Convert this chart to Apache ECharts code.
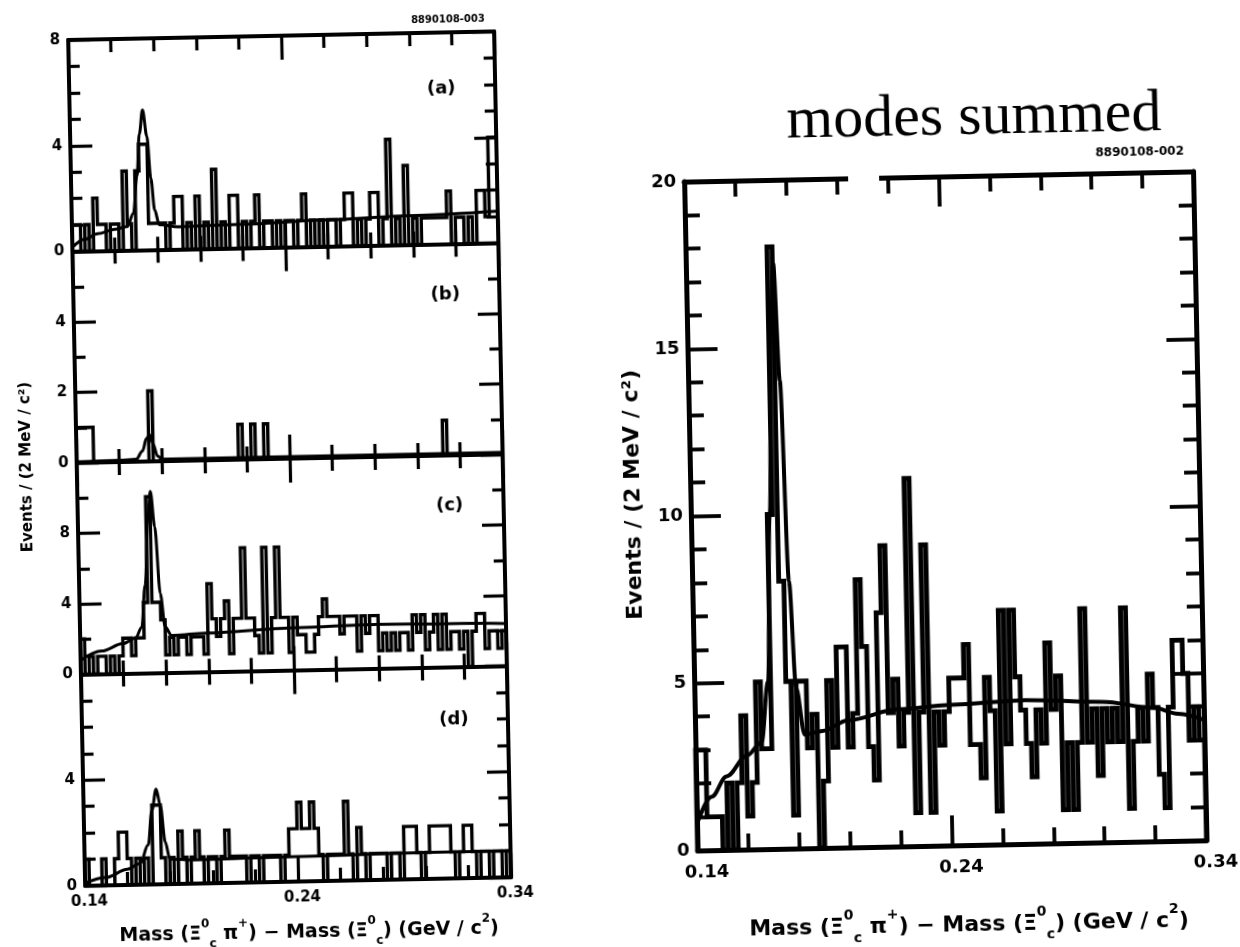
<!DOCTYPE html>
<html>
<head>
<meta charset="utf-8">
<script src="https://cdn.jsdelivr.net/npm/echarts@6.0.0/dist/echarts.min.js"></script>
<style>
html,body{margin:0;padding:0;background:#fff;overflow:hidden;}
#chart{width:1240px;height:947px;transform:rotate(-1.15deg);transform-origin:620px 473.5px;}
</style>
</head>
<body>
<div id="chart"></div>
<script>
// ---------- data ----------
const massStart = 0.14;       // GeV, left edge of first bin
const binWidth = 0.002;       // GeV (2 MeV bins)
const xTickLabels = ['0.14', '0.24', '0.34'];
const panelLabels = ['(a)', '(b)', '(c)', '(d)'];
const figureCodes = ['8890108-003', '8890108-002'];
const summedTitle = 'modes summed';

const countsA = [1,1,0,1,0,2,1,1,0,1, 1,0,3,1,0,3,4,4,1,1, 1,1,0,1,2,2,0,1,0,2, 0,1,0,3,0,1,0,2,2,0,
                 1,0,1,2,0,1,1,0,1,0, 1,1,0,1,2,0,1,0,1,0, 1,1,0,1,2,2,0,1,0,1, 2,2,0,1,4,0,1,0,3,0,
                 1,0,1,1,1,1,1,1,2,0, 1,1,0,1,0,2,2,1,4,4];
const countsB = [1,1,1,1,0,0,0,0,0,0, 0,0,0,0,0,0,0,2,0,0, 0,0,0,0,0,0,0,0,0,0, 0,0,0,0,0,0,0,0,1,0,
                 0,1,0,0,1,0,0,0,0,0, 0,0,0,0,0,0,0,0,0,0, 0,0,0,0,0,0,0,0,0,0, 0,0,0,0,0,0,0,0,0,0,
                 0,0,0,0,0,0,1,0,0,0, 0,0,0,0,0,0,0,0,0,0];
const countsC = [2,0,1,0,1,1,0,1,0,1, 2,2,1,2,2,4,10,4,4,3, 1,2,1,2,2,1,2,2,2,1, 5,3,2,3,4,1,3,3,7,3,
                 3,2,1,7,1,3,7,3,3,1, 3,2,2,1,1,2,3,4,3,3, 3,2,3,3,3,1,3,2,3,3, 1,2,1,2,1,2,2,1,3,2,
                 3,1,2,3,1,3,1,2,2,1, 2,0,2,3,3,1,2,2,1,2];
const countsD = [1,0,0,0,1,0,0,1,2,2, 1,0,1,0,1,0,3,3,1,0, 1,0,2,1,0,1,2,1,0,1, 1,0,1,2,1,1,1,1,0,1,
                 1,0,1,1,1,1,0,1,2,2, 3,2,2,3,2,1,0,1,1,1, 1,3,1,0,2,1,0,1,1,1, 1,0,1,1,0,2,2,2,1,0,
                 1,2,2,2,2,2,1,0,1,2, 2,1,0,1,1,0,1,1,0,1];
const countsSum = [3,3,1,1,1,0,2,0,2,4, 1,2,5,3,3,10,18,8,5,1, 5,5,3,4,0,2,5,3,6,6, 3,4,8,6,3,2,7,9,4,5,
                   3,4,11,1,4,9,1,4,3,4, 5,5,5,6,3,3,2,5,4,1, 7,3,7,5,4,3,2,4,3,6, 4,5,1,3,1,3,7,3,4,2,
                   4,3,4,3,7,1,3,4,3,5, 4,2,1,4,6,6,5,3,4,3];

// fitted curves as [mass (GeV), events]
const fitA = [[0.140,0.15],[0.146,0.45],[0.152,0.65],[0.160,0.8],[0.166,0.9],[0.169,1.4],[0.171,2.8],[0.1725,4.4],[0.1742,5.3],[0.176,4.3],[0.1775,2.7],[0.179,1.5],[0.181,0.95],[0.19,0.85],[0.22,0.9],[0.26,1.0],[0.30,1.1],[0.34,1.2]];
const fitB = [[0.140,0.03],[0.160,0.05],[0.168,0.07],[0.171,0.3],[0.173,0.65],[0.1745,0.75],[0.176,0.5],[0.178,0.15],[0.180,0.06],[0.22,0.06],[0.34,0.06]];
const fitC = [[0.140,0.8],[0.150,1.3],[0.160,1.7],[0.166,2.0],[0.169,2.6],[0.171,5.0],[0.173,9.0],[0.1743,10.3],[0.176,8.3],[0.178,4.5],[0.180,2.6],[0.183,2.1],[0.20,2.2],[0.24,2.4],[0.28,2.5],[0.32,2.45],[0.34,2.4]];
const fitD = [[0.140,0.1],[0.150,0.3],[0.160,0.6],[0.166,0.8],[0.170,1.5],[0.172,2.8],[0.1742,3.6],[0.176,3.0],[0.178,1.6],[0.180,0.95],[0.19,0.9],[0.24,0.95],[0.30,1.0],[0.34,1.0]];
const fitSum = [[0.140,0.8],[0.146,1.6],[0.152,2.2],[0.160,2.8],[0.166,3.2],[0.169,5.0],[0.171,10],[0.173,16],[0.1743,17.5],[0.176,14],[0.178,8],[0.180,4.8],[0.183,3.4],[0.19,3.5],[0.20,3.8],[0.22,4.1],[0.24,4.2],[0.27,4.3],[0.30,4.2],[0.32,4.0],[0.33,3.8],[0.34,3.6]];

// y-axis settings per panel
const yMaxes = [8, 6, 12, 8, 20];
const yLabelSteps = [4, 2, 4, 4, 5];
const yMinorSplits = [4, 2, 2, 4, 5];

// ---------- helpers ----------
const toMeV = m => (m - massStart) * 1000; // x axis in MeV above 0.14 GeV
function histData(counts) {
  const d = [[0, 0]];
  counts.forEach((v, i) => d.push([toMeV(massStart + binWidth * (i + 1)), v]));
  d.push([toMeV(massStart + binWidth * counts.length), 0]);
  return d;
}
const curveData = pts => pts.map(p => [toMeV(p[0]), p[1]]);

const FONT = '"DejaVu Sans", "Liberation Sans", sans-serif';
const grids = [], xAxes = [], yAxes = [], series = [];

const leftTop = 29, leftH = 211.5;
const panels = [
  {grid:{left:77, top:leftTop, width:426, height:leftH}, counts:countsA, fit:fitA, xLabels:false, small:true, showMax:true},
  {grid:{left:77, top:leftTop+leftH, width:426, height:leftH}, counts:countsB, fit:fitB, xLabels:false, small:true, showMax:false},
  {grid:{left:77, top:leftTop+2*leftH, width:426, height:leftH}, counts:countsC, fit:fitC, xLabels:false, small:true, showMax:false},
  {grid:{left:77, top:leftTop+3*leftH, width:426, height:leftH}, counts:countsD, fit:fitD, xLabels:true, small:true, showMax:false},
  {grid:{left:690, top:183, width:509, height:669}, counts:countsSum, fit:fitSum, xLabels:true, small:false, showMax:true}
];

panels.forEach((p, g) => {
  grids.push(Object.assign({containLabel:false}, p.grid));
  const fw = p.small ? 4 : 5;
  const tw = p.small ? 3.2 : 3.8;
  const xMaj = p.small ? 24 : 30, xMin = p.small ? 13 : 16;
  const yMaj = p.small ? 22 : 30, yMin = p.small ? 11 : 15;
  const lblFont = p.small ? 15 : 18;
  ['bottom', 'top'].forEach(pos => {
    xAxes.push({
      gridIndex: g, type: 'value', position: pos, min: 0, max: 200, interval: 100,
      axisLine: {show: true, onZero: false, lineStyle: {color: '#000', width: fw}},
      axisTick: {show: true, inside: true, length: xMaj, lineStyle: {color: '#000', width: tw}},
      minorTick: {show: true, splitNumber: 5, length: xMin, lineStyle: {color: '#000', width: tw}},
      splitLine: {show: false}, minorSplitLine: {show: false},
      axisLabel: {show: pos === 'bottom' && p.xLabels, margin: p.small ? 9 : 13, padding: [0, 0, 0, p.small ? 8 : 18],
        color: '#000', fontFamily: FONT, fontWeight: 'bold', fontSize: lblFont,
        formatter: v => xTickLabels[Math.round(v / 100)]}
    });
  });
  ['left', 'right'].forEach(pos => {
    yAxes.push({
      gridIndex: g, type: 'value', position: pos, min: 0, max: yMaxes[g], interval: yLabelSteps[g],
      axisLine: {show: true, onZero: false, lineStyle: {color: '#000', width: fw}},
      axisTick: {show: true, inside: true, length: yMaj, lineStyle: {color: '#000', width: tw}},
      minorTick: {show: true, splitNumber: yMinorSplits[g], length: yMin, lineStyle: {color: '#000', width: tw}},
      splitLine: {show: false}, minorSplitLine: {show: false},
      axisLabel: {show: pos === 'left', showMaxLabel: p.showMax, margin: 8, color: '#000',
        fontFamily: FONT, fontWeight: 'bold', fontSize: lblFont}
    });
  });
  const xi = g * 2, yi = g * 2;
  series.push({
    type: 'line', xAxisIndex: xi, yAxisIndex: yi, data: histData(p.counts), step: 'start',
    symbol: 'none', lineStyle: {color: '#000', width: p.small ? 3.4 : 4.8, join: 'miter'}, silent: true, z: 3
  });
  series.push({
    type: 'line', xAxisIndex: xi, yAxisIndex: yi, data: curveData(p.fit), smooth: 0.35, smoothMonotone: 'x',
    symbol: 'none', lineStyle: {color: '#000', width: p.small ? 3.0 : 4.0}, silent: true, z: 4
  });
});

const rich = fs => ({
  t: {fontSize: fs, fontWeight: 'bold', fontFamily: FONT, lineHeight: fs * 1.7, verticalAlign: 'middle', fill: '#000'},
  sp: {fontSize: Math.round(fs * 0.62), fontWeight: 'bold', fontFamily: FONT, verticalAlign: 'top', fill: '#000'},
  sb: {fontSize: Math.round(fs * 0.62), fontWeight: 'bold', fontFamily: FONT, verticalAlign: 'bottom', fill: '#000'}
});
const xTitle = '{t|Mass (Ξ}{sp|0}{sb|c}{t| π}{sp|+}{t|) − Mass (Ξ}{sp|0}{sb|c}{t|) (GeV / c}{sp|2}{t|)}';
const yTitle = 'Events / (2 MeV / c²)';

const graphic = [
  {type: 'text', x: 981, y: 125, z: 50, style: {text: summedTitle, font: '60px "Liberation Serif", "DejaVu Serif", serif', fill: '#000', align: 'center', verticalAlign: 'middle'}},
  {type: 'text', x: 457, y: 16, z: 50, style: {text: figureCodes[0], font: 'bold 10px ' + FONT, fill: '#000', align: 'center', verticalAlign: 'middle'}},
  {type: 'text', x: 1146, y: 163, z: 50, style: {text: figureCodes[1], font: 'bold 12px ' + FONT, fill: '#000', align: 'center', verticalAlign: 'middle'}},
  {type: 'rect', z: 60, shape: {x: 854, y: 176, width: 31, height: 13}, style: {fill: '#fff'}},
  {type: 'text', x: 27, y: 455, rotation: Math.PI / 2, z: 50, style: {text: yTitle, font: 'bold 15px ' + FONT, fill: '#000', align: 'center', verticalAlign: 'middle'}},
  {type: 'text', x: 633, y: 495, rotation: Math.PI / 2, z: 50, style: {text: yTitle, font: 'bold 22px ' + FONT, fill: '#000', align: 'center', verticalAlign: 'middle'}},
  {type: 'text', x: 300, y: 926, z: 50, style: {text: xTitle, rich: rich(19), align: 'center', verticalAlign: 'middle'}},
  {type: 'text', x: 960, y: 932, z: 50, style: {text: xTitle, rich: rich(22), align: 'center', verticalAlign: 'middle'}}
];
[85, 291, 502, 716].forEach((y, i) => graphic.push(
  {type: 'text', x: 449, y: y, z: 50, style: {text: panelLabels[i], font: 'bold 18px ' + FONT, fill: '#000', align: 'center', verticalAlign: 'middle'}}
));

const chart = echarts.init(document.getElementById('chart'), null, {renderer: 'canvas'});
chart.setOption({
  backgroundColor: '#fff',
  animation: false,
  grid: grids,
  xAxis: xAxes,
  yAxis: yAxes,
  series: series,
  graphic: graphic
});
</script>
</body>
</html>
